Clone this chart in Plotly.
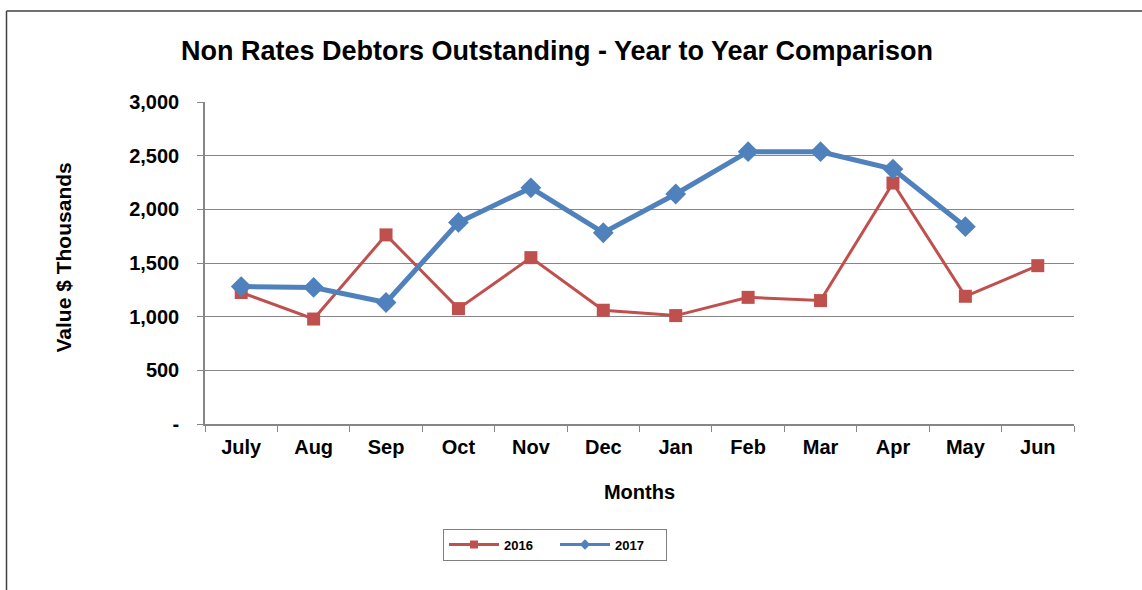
import plotly.graph_objects as go

months = ["July", "Aug", "Sep", "Oct", "Nov", "Dec", "Jan", "Feb", "Mar", "Apr", "May", "Jun"]
v2016 = [1225, 978, 1762, 1075, 1550, 1060, 1010, 1180, 1150, 2245, 1190, 1475]
v2017 = [1280, 1272, 1132, 1878, 2200, 1782, 2143, 2537, 2537, 2375, 1838]
ytick_vals = [0, 500, 1000, 1500, 2000, 2500, 3000]
ytick_text = ["-", "500", "1,000", "1,500", "2,000", "2,500", "3,000"]

FONT = "Liberation Sans, Arial, sans-serif"
RED = "#C0504D"
BLUE = "#4F81BD"

fig = go.Figure()
fig.add_trace(go.Scatter(
    x=months, y=v2016, name="2016", mode="lines+markers", showlegend=False,
    line=dict(color=RED, width=3),
    marker=dict(symbol="square", size=13, color=RED),
))
fig.add_trace(go.Scatter(
    x=months[:len(v2017)], y=v2017, name="2017", mode="lines+markers", showlegend=False,
    line=dict(color=BLUE, width=5),
    marker=dict(symbol="diamond", size=16, color=BLUE),
))
# legend-only entries (smaller symbols as in the reference legend)
fig.add_trace(go.Scatter(x=[None], y=[None], name="<b>2016</b>", mode="lines+markers",
                         line=dict(color=RED, width=3), marker=dict(symbol="square", size=8, color=RED)))
fig.add_trace(go.Scatter(x=[None], y=[None], name="<b>2017</b>", mode="lines+markers",
                         line=dict(color=BLUE, width=3), marker=dict(symbol="diamond", size=8, color=BLUE)))

plot_h = 590 - 102 - 166
plot_w = 1142 - 205 - 68
fx = lambda px: (px - 205) / plot_w
fy = lambda py: (424 - py) / plot_h

fig.update_layout(
    width=1142, height=590,
    paper_bgcolor="white", plot_bgcolor="white",
    margin=dict(l=205, r=68, t=102, b=166),
    font=dict(family=FONT, color="black"),
    title=dict(text="<b>Non Rates Debtors Outstanding - Year to Year Comparison</b>",
               x=557 / 1142, xanchor="center", y=1 - 51 / 590, yanchor="middle",
               font=dict(size=27, family=FONT, color="black")),
    showlegend=True,
    legend=dict(orientation="h", x=fx(555), xanchor="center",
                y=fy(544.5), yanchor="middle",
                bordercolor="#808080", borderwidth=1, bgcolor="white",
                font=dict(size=13, family=FONT, color="black"),
                itemwidth=50, entrywidth=46, traceorder="normal"),
)

fig.update_xaxes(
    type="category", range=[-0.5, 11.5],
    showline=True, linecolor="#868686", linewidth=1.5,
    ticks="outside", tickson="boundaries", ticklen=6, tickcolor="#868686",
    showgrid=False, ticklabelstandoff=4,
    tickfont=dict(size=20, family=FONT, color="black"),
    tickprefix="<b>", ticksuffix="</b>",
    title=dict(text="<b>Months</b>", font=dict(size=20, family=FONT, color="black"), standoff=28),
)
fig.update_yaxes(
    range=[0, 3000], tickvals=ytick_vals, ticktext=["<b>%s</b>" % t for t in ytick_text],
    showline=True, linecolor="#868686", linewidth=1.5,
    ticks="outside", ticklen=6, tickcolor="#868686", ticklabelstandoff=14,
    showgrid=True, gridcolor="#868686", gridwidth=1,
    zeroline=False,
    tickfont=dict(size=20, family=FONT, color="black"),
)

# y-axis title placed as an annotation to match the reference position
fig.add_annotation(text="<b>Value $ Thousands</b>", textangle=-90, showarrow=False,
                   xref="paper", yref="paper", x=fx(63), y=fy(257.5),
                   xanchor="center", yanchor="middle",
                   font=dict(size=21, family=FONT, color="black"))

# outer frame (extends off the right/bottom edges)
fig.add_shape(type="line", xref="paper", yref="paper",
              x0=fx(6.5), x1=fx(1150), y0=fy(11), y1=fy(11),
              line=dict(color="#404040", width=1.5))
fig.add_shape(type="line", xref="paper", yref="paper",
              x0=fx(6.5), x1=fx(6.5), y0=fy(11), y1=fy(600),
              line=dict(color="#404040", width=1.5))

fig.write_html("out.html")
